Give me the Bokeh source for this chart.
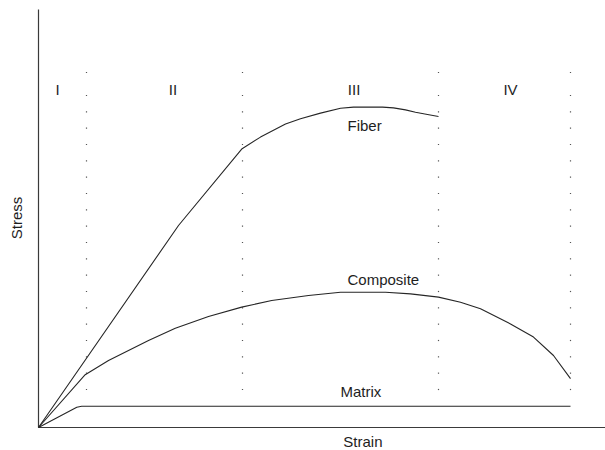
import numpy as np
from bokeh.plotting import figure
from bokeh.models import Range1d
from bokeh.core.properties import value
from bokeh.embed import file_html
from bokeh.resources import INLINE

# ---- data (strain and stress in arbitrary units) ----
fiber_strain = [0.0, 3.5, 5.09, 5.55, 6.175, 6.55, 7.05, 7.55, 7.875, 8.6, 8.875, 9.175, 9.425, 9.725, 10.0]
fiber_stress = [0.0, 50.5, 69.7, 72.6, 75.9, 77.2, 78.6, 79.8, 80.1, 80.1, 79.9, 79.4, 78.8, 78.25, 77.75]

composite_strain = [0.0, 1.1675, 1.75, 2.25, 2.75, 3.42, 4.25, 5.08, 5.83, 6.75, 7.55, 8.675,
                    9.3, 10.0, 10.55, 11.05, 11.8, 12.375, 12.875, 13.3]
composite_stress = [0.0, 13.2, 16.75, 19.25, 21.75, 24.8, 27.75, 30.1, 31.75, 33.0, 33.8, 33.8,
                    33.4, 32.6, 31.3, 29.7, 25.9, 22.6, 18.0, 12.2]

matrix_strain = [0.0, 0.9575, 1.08, 13.3]
matrix_stress = [0.0, 5.075, 5.3, 5.3]

region_bounds = [1.2, 5.1, 10.0, 13.3]
region_labels = ["I", "II", "III", "IV"]
region_label_x = [0.475, 3.36, 7.89, 11.8]
region_label_y = 84.6

divider_bottom = 9.5
divider_top = 83.0
divider_count = 19
divider_cap = 88.75

curve_labels = ["Fiber", "Composite", "Matrix"]
curve_label_x = [7.725, 7.725, 7.55]
curve_label_y = [75.6, 36.9, 8.9]

x_title = "Strain"
y_title = "Stress"
axis_top = 104.5
axis_right = 14.4

FONT = value("Liberation Sans")
FS = "15px"

p = figure(width=605, height=450, output_backend="svg", toolbar_location=None,
           x_axis_type=None, y_axis_type=None, min_border=0,
           x_range=Range1d(-0.95, 14.175), y_range=Range1d(-5.75, 106.75))
p.outline_line_color = None
p.background_fill_color = "white"
p.border_fill_color = "white"

# axes lines
axis_col = "#3a3a3a"
p.line([0, 0], [0, axis_top], line_color=axis_col, line_width=1.2)
p.line([0, axis_right], [0, 0], line_color=axis_col, line_width=1.2)

# dotted region dividers
dot_x, dot_y = [], []
ys = list(np.linspace(divider_bottom, divider_top, divider_count)) + [divider_cap]
for b in region_bounds:
    for yy in ys:
        dot_x.append(b)
        dot_y.append(yy)
p.rect(dot_x, dot_y, width=1.2, height=1.2, width_units="screen", height_units="screen",
       fill_color="#555555", line_color=None)

# curves
curve_col = "#262626"
p.line(fiber_strain, fiber_stress, line_color=curve_col, line_width=1.1, line_join="round")
p.line(composite_strain, composite_stress, line_color=curve_col, line_width=1.1, line_join="round")
p.line(matrix_strain, matrix_stress, line_color=curve_col, line_width=1.1, line_join="round")

txt_col = "#1e1e1e"
p.text(region_label_x, [region_label_y] * 4, text=region_labels, text_font=FONT,
       text_font_size=FS, text_align="center", text_baseline="alphabetic", text_color=txt_col)
p.text(curve_label_x, curve_label_y, text=curve_labels, text_font=FONT,
       text_font_size=FS, text_align="left", text_baseline="alphabetic", text_color=txt_col)
p.text([8.11], [-3.5], text=[x_title], text_font=FONT, text_font_size=FS,
       text_align="center", text_baseline="alphabetic", text_color=txt_col)
p.text([-0.5625], [52.4], text=[y_title], angle=np.pi / 2, text_font=FONT, text_font_size=FS,
       text_align="center", text_baseline="alphabetic", text_color=txt_col)

open("out.html", "w").write(file_html(p, INLINE))
